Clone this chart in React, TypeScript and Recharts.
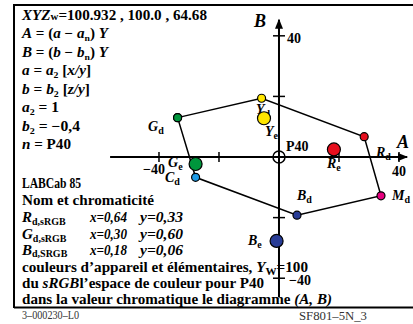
import React from "react";
import { ScatterChart, Scatter, XAxis, YAxis } from "recharts";

// device colours (polygon) and elementary colours, in (A, B)
const hullNames = ["Gd", "Yd", "Rd", "Md", "Bd", "Cd", "Gd"];
const hullA = [-33.8, -5.8, 28.4, 34, 6, -27.8, -33.8];
const hullB = [13, 19.4, 6.7, -12.8, -19.2, -6.7, 13];
const hullColors = ["#00963c", "#ffe600", "#e60f1e", "#e6007e", "#283c96", "#1e9be6", "#00963c"];

const elemNames = ["Ye", "Re", "Be", "Ge"];
const elemA = [-5, 18.3, -0.8, -27.8];
const elemB = [12.8, 2.5, -27.7, -2.3];
const elemColors = ["#ffe600", "#e60f1e", "#283c96", "#00963c"];

const xTicks = [-40, -20, 20, 40];
const yTicks = [40, 20, -20, -40];
const xAxisEnds = [-56.3, 42.7];
const yAxisEnds = [-46.2, 45.3];

const W = 413;
const H = 324;

const hull = hullNames.map((n, i) => ({ name: n, a: hullA[i], b: hullB[i], color: hullColors[i] }));
const elem = elemNames.map((n, i) => ({ name: n, a: elemA[i], b: elemB[i], color: elemColors[i] }));
const axisX = xAxisEnds.map((a, i) => ({ a, b: 0, tip: i === 1 }));
const axisY = yAxisEnds.map((b, i) => ({ a: 0, b, tip: i === 1 }));
const tickX = xTicks.map((a) => ({ a, b: 0 }));
const tickY = yTicks.map((b) => ({ a: 0, b }));

const dot = (r: number) => (p: any) => (
	<circle cx={p.cx} cy={p.cy} r={r} fill={p.payload.color} stroke="#000" strokeWidth={1.2} />
);

const arrowRight = (p: any) =>
	p.payload.tip ? <path d={`M${p.cx + 1},${p.cy} L${p.cx - 9},${p.cy - 4} L${p.cx - 9},${p.cy + 4} Z`} fill="#000" /> : <g />;
const arrowUp = (p: any) =>
	p.payload.tip ? <path d={`M${p.cx},${p.cy - 1} L${p.cx - 4},${p.cy + 9} L${p.cx + 4},${p.cy + 9} Z`} fill="#000" /> : <g />;
const vTick = (p: any) => <line x1={p.cx} x2={p.cx} y1={p.cy - 5} y2={p.cy + 5} stroke="#000" strokeWidth={1.5} />;
const hTick = (p: any) => <line x1={p.cx - 6} x2={p.cx + 6} y1={p.cy} y2={p.cy} stroke="#000" strokeWidth={1.5} />;
const origin = (p: any) => <circle cx={p.cx} cy={p.cy} r={6} fill="none" stroke="#000" strokeWidth={1.5} />;

const serif = "'Liberation Serif', 'Times New Roman', serif";

function Sub({ children, size = 9, shift = 3 }: any) {
	return (
		<tspan fontSize={size} baselineShift={-shift} fontStyle="normal">
			{children}
		</tspan>
	);
}

const I = ({ children }: any) => <tspan fontStyle="italic">{children}</tspan>;

// one line of bold serif text, optionally stretched to the width
function T({ x, y, size = 14, len, italic, children }: any) {
	return (
		<text
			x={x}
			y={y}
			fontSize={size}
			fontFamily={serif}
			fontWeight="bold"
			fontStyle={italic ? "italic" : "normal"}
			fill="#000"
			textLength={len}
			lengthAdjust={len ? "spacingAndGlyphs" : undefined}
		>
			{children}
		</text>
	);
}

function Label({ x, y, l, s }: any) {
	return (
		<T x={x} y={y} size={14} italic>
			{l}
			<Sub size={10}>{s}</Sub>
		</T>
	);
}

function Texts() {
	return (
		<svg width={W} height={H} style={{ position: "absolute", left: 0, top: 0 }}>
			<T x={22} y={20} len={185}>
				<I>XYZ</I>
				<tspan fontSize={10}>w</tspan>=100.932 , 100.0 , 64.68
			</T>
			<T x={22} y={38} len={86}>
				<I>A</I> = (<I>a</I> − <I>a</I>
				<Sub>n</Sub>) <I>Y</I>
			</T>
			<T x={22} y={57} len={86}>
				<I>B</I> = (<I>b</I> − <I>b</I>
				<Sub>n</Sub>) <I>Y</I>
			</T>
			<T x={22} y={75} len={69}>
				<I>a</I> = <I>a</I>
				<Sub>2</Sub> [<I>x/y</I>]
			</T>
			<T x={22} y={94} len={68}>
				<I>b</I> = <I>b</I>
				<Sub>2</Sub> [<I>z/y</I>]
			</T>
			<T x={22} y={112} len={37}>
				<I>a</I>
				<Sub>2</Sub> = 1
			</T>
			<T x={22} y={131} len={58}>
				<I>b</I>
				<Sub>2</Sub> = −0,4
			</T>
			<T x={22} y={149} len={49}>
				<I>n</I> = P40
			</T>

			<T x={22} y={188} size={15} len={59}>LABCab 85</T>
			<T x={22} y={205} size={15} len={132}>Nom et chromaticité</T>
			<T x={22} y={222} size={15}>
				<I>R</I>
				<Sub size={10}>d,sRGB</Sub>
			</T>
			<T x={90} y={222} size={15} len={37} italic>x=0,64</T>
			<T x={140} y={222} size={15} len={43} italic>y=0,33</T>
			<T x={22} y={239} size={15}>
				<I>G</I>
				<Sub size={10}>d,sRGB</Sub>
			</T>
			<T x={90} y={239} size={15} len={37} italic>x=0,30</T>
			<T x={140} y={239} size={15} len={43} italic>y=0,60</T>
			<T x={22} y={255} size={15}>
				<I>B</I>
				<Sub size={10} shift={1.5}>d,SRGB</Sub>
			</T>
			<T x={90} y={255} size={15} len={37} italic>x=0,18</T>
			<T x={140} y={255} size={15} len={43} italic>y=0,06</T>
			<T x={22} y={271.5} size={15} len={286}>
				couleurs d’appareil et élémentaires, <I>Y</I>
				<Sub size={11}>W</Sub>=100
			</T>
			<T x={22} y={287.5} size={15} len={242}>
				du <I>sRGB</I>l’espace de couleur pour P40
			</T>
			<T x={22} y={303.5} size={15} len={310}>
				dans la valeur chromatique le diagramme <I>(A, B)</I>
			</T>

			<T x={254} y={27} size={18} italic>B</T>
			<T x={287} y={43}>40</T>
			<T x={397} y={148} size={18} italic>A</T>
			<T x={392} y={176}>40</T>
			<T x={143} y={174}>−40</T>
			<T x={289} y={285}>−40</T>
			<T x={286} y={151}>P40</T>
			<Label x={148} y={131} l="G" s="d" />
			<Label x={256} y={114} l="Y" s="d" />
			<Label x={265} y={136} l="Y" s="e" />
			<Label x={376} y={157} l="R" s="d" />
			<Label x={327} y={168} l="R" s="e" />
			<Label x={392} y={200} l="M" s="d" />
			<Label x={297} y={200} l="B" s="d" />
			<Label x={248} y={245} l="B" s="e" />
			<Label x={168} y={167} l="G" s="e" />
			<Label x={165} y={182} l="C" s="d" />

			<line x1={14} x2={W} y1={5} y2={5} stroke="#000" strokeWidth={2} />
			<line x1={14} x2={14} y1={4} y2={308} stroke="#000" strokeWidth={2} />
			<line x1={14} x2={W} y1={307.5} y2={307.5} stroke="#000" strokeWidth={2} />
			<text x={22} y={319} fontSize={12} fontFamily={serif} fill="#333" textLength={57} lengthAdjust="spacingAndGlyphs">
				3–000230–L0
			</text>
			<text x={299} y={320} fontSize={12} fontFamily={serif} fill="#333" textLength={68} lengthAdjust="spacingAndGlyphs">
				SF801–5N_3
			</text>
		</svg>
	);
}

export default function App() {
	return (
		<div style={{ position: "absolute", left: 0, top: 0, width: W, height: H, background: "#fff" }}>
			<Texts />
			<div style={{ position: "absolute", left: 0, top: 0 }}>
				<ScatterChart width={W} height={H} margin={{ top: 5, right: 0, bottom: 16, left: 14 }}>
					<XAxis type="number" dataKey="a" domain={[-88.33, 44.67]} hide allowDataOverflow />
					<YAxis type="number" dataKey="b" domain={[-49.83, 50.17]} hide allowDataOverflow />
					<Scatter data={axisX} line={{ stroke: "#000", strokeWidth: 2 }} shape={arrowRight} isAnimationActive={false} />
					<Scatter data={axisY} line={{ stroke: "#000", strokeWidth: 2 }} shape={arrowUp} isAnimationActive={false} />
					<Scatter data={tickX} shape={vTick} isAnimationActive={false} />
					<Scatter data={tickY} shape={hTick} isAnimationActive={false} />
					<Scatter data={[{ a: 0, b: 0 }]} shape={origin} isAnimationActive={false} />
					<Scatter data={hull} line={{ stroke: "#000", strokeWidth: 1.5 }} shape={dot(4)} isAnimationActive={false} />
					<Scatter data={elem} shape={dot(6.5)} isAnimationActive={false} />
				</ScatterChart>
			</div>
		</div>
	);
}
